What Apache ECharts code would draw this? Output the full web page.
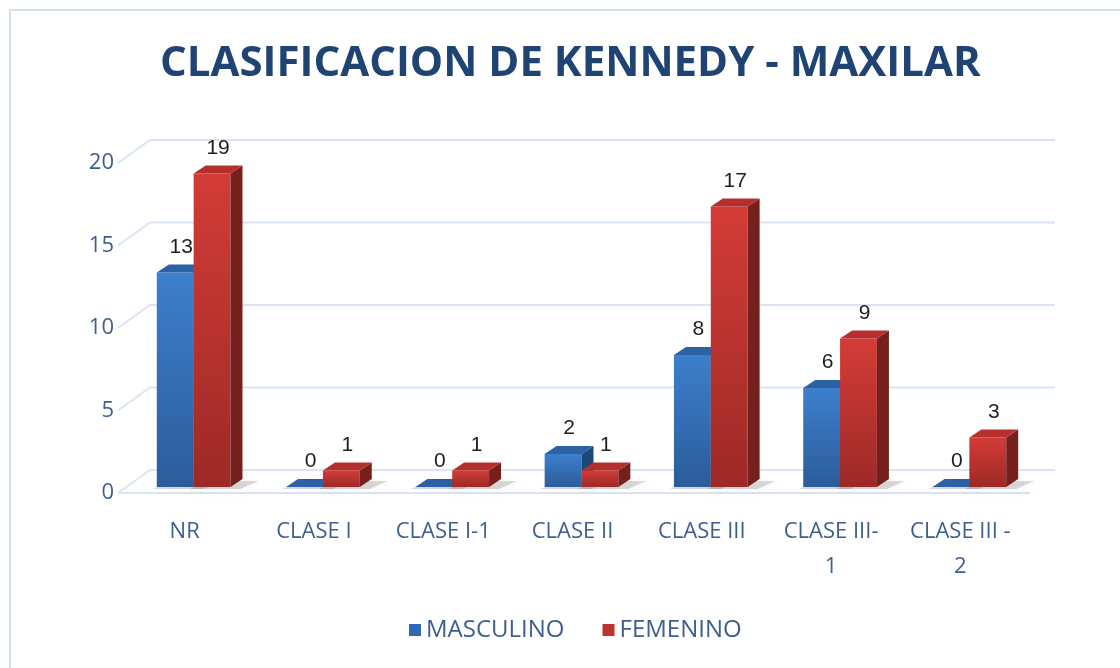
<!DOCTYPE html>
<html>
<head>
<meta charset="utf-8">
<script src="https://cdn.jsdelivr.net/npm/echarts@6/dist/echarts.min.js"></script>
<style>
  html, body { margin: 0; padding: 0; background: #fff; }
  #chart { width: 1120px; height: 668px; }
</style>
</head>
<body>
<div id="chart"></div>
<script>
var categories = ['NR', 'CLASE I', 'CLASE I-1', 'CLASE II', 'CLASE III', 'CLASE III-\n1', 'CLASE III -\n2'];
var masculino = [13, 0, 0, 2, 8, 6, 0];
var femenino = [19, 1, 1, 1, 17, 9, 3];
var yTicks = [0, 5, 10, 15, 20];

var textBlue = '#3d5f8f';
var gridColor = '#dae5f3';

// offsets for the fake 3d look
var wallDx = 30, wallDy = -23;
var barDx = 12, barDy = -8;
var barShiftX = 9, barShiftY = -6;

var chart = echarts.init(document.getElementById('chart'));

function bar3d(side, faces) {
    return function (params, api) {
        var idx = api.value(0);
        var val = api.value(1);
        var band = api.size([1, 0])[0];
        var w = band * 0.285;
        var top = api.coord([idx, val]);
        var base = api.coord([idx, 0]);
        var x = top[0] + barShiftX + (side < 0 ? -w : 0);
        var yt = top[1] + barShiftY;
        var yb = base[1] + barShiftY;
        var children = [];
        // floor shadow
        children.push({
            type: 'polygon',
            shape: { points: [[x - 4, yb + 2], [x + w + 10, yb + 2], [x + w + barDx + 16, yb + barDy + 2], [x + barDx, yb + barDy + 2]] },
            style: { fill: 'rgba(0,0,0,0.14)', shadowBlur: 10, shadowColor: 'rgba(0,0,0,0.3)' },
            z2: 0
        });
        if (yb - yt > 0.5) {
            children.push({
                type: 'rect',
                shape: { x: x, y: yt, width: w, height: yb - yt },
                style: { fill: new echarts.graphic.LinearGradient(0, 0, 0, 1, [
                    { offset: 0, color: faces.frontTop }, { offset: 1, color: faces.frontBottom }]) },
                z2: 2
            });
            children.push({
                type: 'polygon',
                shape: { points: [[x + w, yt], [x + w + barDx, yt + barDy], [x + w + barDx, yb + barDy], [x + w, yb]] },
                style: { fill: faces.side },
                z2: 2
            });
        }
        children.push({
            type: 'polygon',
            shape: { points: [[x, yt], [x + w, yt], [x + w + barDx, yt + barDy], [x + barDx, yt + barDy]] },
            style: { fill: faces.top },
            z2: 3
        });
        children.push({
            type: 'text',
            style: {
                text: String(val), x: x + w / 2 + barDx / 2, y: yt + barDy - 7,
                align: 'center', verticalAlign: 'bottom',
                font: '21px "Liberation Sans", Arial, sans-serif', fill: '#1e1e1e'
            },
            z2: 4
        });
        return { type: 'group', children: children };
    };
}

function wallLines(params, api) {
    var v = api.value(1);
    var band = api.size([1, 0])[0];
    var first = api.coord([0, v]);
    var last = api.coord([categories.length - 1, v]);
    var xl = first[0] - band / 2;
    var xr = last[0] + band / 2;
    var children = [{
        type: 'polyline',
        shape: { points: [[xl - 2, first[1]], [xl + wallDx, first[1] + wallDy], [xr + wallDx, first[1] + wallDy]] },
        style: { stroke: gridColor, lineWidth: 2, fill: null }
    }];
    if (v === 0) {
        children.push({
            type: 'line',
            shape: { x1: xl - 2, y1: first[1], x2: xr + 5, y2: first[1] },
            style: { stroke: gridColor, lineWidth: 2 }
        });
    }
    return { type: 'group', children: children };
}

var option = {
    backgroundColor: '#ffffff',
    animation: false,
    title: {
        text: 'CLASIFICACION DE KENNEDY - MAXILAR',
        left: 155,
        top: 38,
        textStyle: {
            fontFamily: '"Open Sans"',
            fontWeight: 'bold',
            fontSize: 42,
            color: '#1f4474'
        }
    },
    legend: {
        bottom: 21,
        left: 404,
        icon: 'rect',
        itemWidth: 12,
        itemHeight: 12,
        itemGap: 38,
        textStyle: { fontFamily: '"Open Sans"', fontSize: 24, color: textBlue },
        data: [
            { name: 'MASCULINO', itemStyle: { color: '#3068b4' } },
            { name: 'FEMENINO', itemStyle: { color: '#c0332f' } }
        ]
    },
    graphic: [{
        type: 'rect',
        shape: { x: 10, y: 10, width: 1130, height: 680 },
        style: { fill: null, stroke: '#d3e1f1', lineWidth: 2 },
        silent: true
    }],
    grid: {
        left: 120,
        right: 95,
        top: 163,
        bottom: 175
    },
    xAxis: {
        type: 'category',
        data: categories,
        axisLine: { show: false },
        axisTick: { show: false },
        axisLabel: {
            margin: 21,
            interval: 0,
            fontFamily: '"Open Sans"',
            fontSize: 22,
            lineHeight: 35,
            color: textBlue
        }
    },
    yAxis: {
        type: 'value',
        min: 0,
        max: 20,
        interval: 5,
        axisLine: { show: false },
        axisTick: { show: false },
        splitLine: { show: false },
        axisLabel: {
            margin: 6,
            fontFamily: '"Open Sans"',
            fontSize: 22,
            color: textBlue
        }
    },
    series: [
        {
            type: 'custom',
            name: 'walls',
            silent: true,
            z: 1,
            renderItem: wallLines,
            data: yTicks.map(function (v) { return [0, v]; })
        },
        {
            type: 'custom',
            name: 'MASCULINO',
            z: 2,
            itemStyle: { color: '#3068b4' },
            renderItem: bar3d(-1, { frontTop: '#3d7fcc', frontBottom: '#2b5c9b', top: '#2c61a6', side: '#1f4778' }),
            data: masculino.map(function (v, i) { return [i, v]; })
        },
        {
            type: 'custom',
            name: 'FEMENINO',
            z: 3,
            itemStyle: { color: '#c0332f' },
            renderItem: bar3d(1, { frontTop: '#d33c37', frontBottom: '#9d2926', top: '#b52f2c', side: '#76201e' }),
            data: femenino.map(function (v, i) { return [i, v]; })
        }
    ]
};

chart.setOption(option);
</script>
</body>
</html>
